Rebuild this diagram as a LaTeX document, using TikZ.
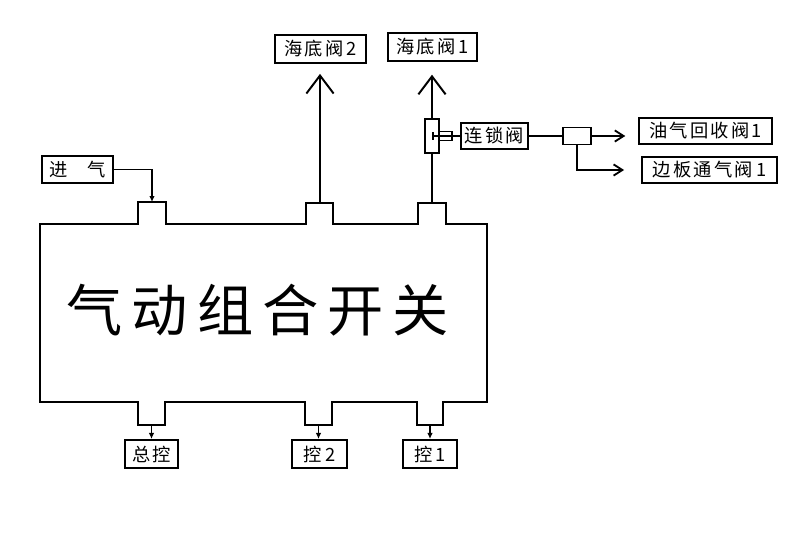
\documentclass[tikz,border=0pt]{standalone}
\usepackage{fontspec}
\setmainfont{Noto Sans CJK SC}
\newfontfamily\lbl[LetterSpace=12]{Noto Sans CJK SC}
\newfontfamily\ttl[LetterSpace=16]{Noto Sans CJK SC}
\usetikzlibrary{positioning,arrows.meta,calc}
\tikzset{
  lab/.style={draw,line width=1.5pt,inner sep=0pt,minimum height=6.5mm,
    font=\lbl\fontsize{13}{13}\selectfont},
  pipe/.style={line width=1.4pt},
  feed/.style={pipe,-{Latex[length=1.5mm,width=1.4mm]}},
  outv/.style={pipe,-{Straight Barb[length=4.5mm,width=6.8mm,line width=1.4pt]}},
  tov/.style={pipe,-{Straight Barb[length=2.2mm,width=2.8mm,line width=1.3pt]}},
}

\begin{document}
\begin{tikzpicture}[x=0.25mm,y=-0.25mm]
  \useasboundingbox (0,0) rectangle (800,533);

  % switch body with its ports
  \draw[pipe] (40,224) -- (138,224) -- (138,202) -- (166,202) -- (166,224)
    -- (306,224) -- (306,203) -- (333,203) -- (333,224)
    -- (418,224) -- (418,203) -- (446,203) -- (446,224)
    -- (487,224) -- (487,402) -- (443,402) -- (443,425) -- (417,425) -- (417,402)
    -- (332,402) -- (332,425) -- (305,425) -- (305,402)
    -- (165,402) -- (165,425) -- (138,425) -- (138,402) -- (40,402) -- cycle;
  \node[font=\ttl\fontsize{40}{40}\selectfont] (body) at (258,310) {气动组合开关};

  \coordinate (pin) at (152,202);
  \coordinate (p2top) at (320,203);
  \coordinate (p3top) at (432,203);
  \coordinate (p1bot) at (151.5,425);
  \coordinate (p2bot) at (318.5,425);
  \coordinate (p3bot) at (430,425);

  \node[lab,minimum width=17.75mm,minimum height=6.75mm] (jinqi) at (77.5,169.5) {进\hspace{5mm}气};
  \node[lab,minimum width=22.75mm,minimum height=7mm] (hd2) at (320.5,49) {海底阀\,2};
  \node[lab,minimum width=22.25mm,minimum height=7mm] (hd1) at (432.5,47) {海底阀\,1};
  \node[draw,line width=1.4pt,inner sep=0pt,minimum width=3.5mm,minimum height=8.5mm] (valve) at (432,136) {};
  \node[draw,line width=1.2pt,inner sep=0pt,minimum width=3.25mm,minimum height=2.25mm] (sq) at (445.5,136) {};
  \node[lab,minimum width=16.75mm] (lsf) at (494.5,136) {连锁阀};
  \node[draw,line width=1.4pt,inner sep=0pt,minimum width=7mm,minimum height=4.25mm] (split) at (577,136) {};
  \node[lab,minimum width=33.25mm] (yq) at (705.5,131) {油气回收阀1};
  \node[lab,minimum width=33.75mm] (bb) at (709.5,170) {边板通气阀\,1};
  \node[lab,minimum width=13.25mm,minimum height=7mm] (zk) at (151.5,454) {总控};
  \node[lab,minimum width=13.75mm,minimum height=7mm] (k2) at (319.5,454) {控\,2};
  \node[lab,minimum width=13.5mm,minimum height=7mm] (k1) at (430,454) {控\,1};

  \draw[feed] (jinqi.east) -| (pin);
  \draw[outv,shorten >=7] (p2top) -- (p2top |- hd2.south);
  \draw[pipe] (p3top) -- (valve.south);
  \draw[outv,shorten >=9] (valve.north) -- (valve.north |- hd1.south);
  \draw[pipe] (433,132) -- (433,140);
  \draw[pipe] (433,136) -- (lsf.west);
  \draw[pipe] (lsf.east) -- (split.west);
  \draw[tov,shorten >=9] (split.east) -- (split.east -| yq.west);
  \draw[tov,shorten >=12] (split.south) |- (bb.west);
  \draw[feed] (p1bot) -- (zk.north);
  \draw[feed] (p2bot) -- (p2bot |- k2.north);
  \draw[feed] (p3bot) -- (k1.north);
\end{tikzpicture}
\end{document}
